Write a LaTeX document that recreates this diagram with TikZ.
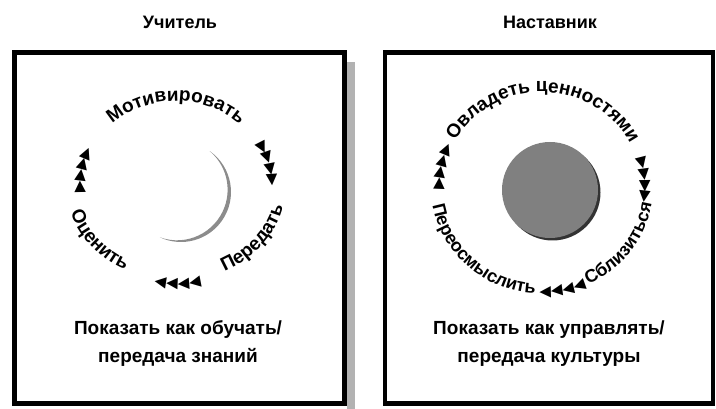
\documentclass[tikz,border=0pt]{standalone}
\usepackage{fontspec}
\setmainfont{Liberation Sans}
\newfontfamily\arrowfont{DejaVu Sans}
\usepackage{tikz}
\usetikzlibrary{decorations.text}

\newcommand\ringfont{\fontsize{19}{19}\selectfont\bfseries}
\newcommand\ringsmallfont{\fontsize{18}{18}\selectfont\bfseries}
\newcommand\pointfont{\arrowfont\fontsize{15}{15}\selectfont}

\begin{document}
\begin{tikzpicture}[
  x = 1pt, y = 1pt,
  title/.style    = {font=\fontsize{18}{22}\selectfont\bfseries},
  frame/.style    = {draw, line width=4.5pt},
  note/.style     = {align=center, font=\fontsize{19}{28}\selectfont\bfseries},
  ring/.style     = {decorate, decoration={text along path, text align=center,
                     text={|\ringfont|#1}}},
  ringsmall/.style = {decorate, decoration={text along path, text align=center,
                     text={|\ringsmallfont|#1}}},
  pointers/.style = {decorate, decoration={text along path, text align=center,
                     raise=-5pt, text={|\pointfont|#1}}},
]
\useasboundingbox (0,0) rectangle (716,409);

% ── Titles ───────────────────────────────────────────────────
\node[title] (tteach) at (180,387) {Учитель};
\node[title] (tment)  at (550,387) {Наставник};

% ── Frames ───────────────────────────────────────────────────
\fill[gray!60] (347,0) rectangle (355,347);
\draw[frame] (14.5,5.5) rectangle (344.5,356.5);
\draw[frame] (385,5.5)  rectangle (713,356.5);

% ── Teacher: crescent and cycle ──────────────────────────────
\coordinate (cT) at (176,224);
\fill[black!45] (181,217) ++(55:50)
  arc[start angle=55, end angle=-115, radius=50]
  arc[start angle=-109.8, end angle=49.8, radius=50.6] -- cycle;
\path[ring=Мотивировать, shift={(cT)}]
  (150:92 and 84) arc[start angle=150, end angle=30, x radius=92, y radius=84];
\path[pointers=▶▶▶▶, shift={(cT)}]
  (34:97 and 89) arc[start angle=34, end angle=-6, x radius=97, y radius=89];
\path[pointers=▶▶▶▶, shift={(cT)}]
  (190:97 and 89) arc[start angle=190, end angle=150, x radius=97, y radius=89];
\path[ring=Передать, shift={(cT)}]
  (-72:110 and 96) arc[start angle=-72, end angle=-4, x radius=110, y radius=96];
\path[pointers=◀◀◀◀, shift={(cT)}]
  (-109:100 and 98) arc[start angle=-109, end angle=-69, x radius=100, y radius=98];
\path[ring=Оценить, shift={(cT)}]
  (186:110 and 96) arc[start angle=186, end angle=252, x radius=110, y radius=96];

\node[note] (nteach) at (178,65) {Показать как обучать/\\передача знаний};

% ── Mentor: disk and cycle ───────────────────────────────────
\coordinate (cM) at (542,222);
\fill[black!80] (552.5,216.5) circle (48);
\fill[black!50] (550,219) circle (48);
\path[ring=Овладеть ценностями, shift={(cM)}]
  (172:99 and 95) arc[start angle=172, end angle=6, x radius=99, y radius=95];
\path[pointers=▶▶▶▶, shift={(cM)}]
  (22:104 and 100) arc[start angle=22, end angle=-14, x radius=104, y radius=100];
\path[pointers=▶▶▶▶, shift={(cM)}]
  (186:104 and 100) arc[start angle=186, end angle=150, x radius=104, y radius=100];
\path[ringsmall=Сблизиться, shift={(cM)}]
  (-75:111 and 107) arc[start angle=-75, end angle=1, x radius=111, y radius=107];
\path[pointers=◀◀◀◀, shift={(cM)}]
  (-97:107 and 104) arc[start angle=-97, end angle=-61, x radius=107, y radius=104];
\path[ringsmall=Переосмыслить, shift={(cM)}]
  (182:111 and 107) arc[start angle=182, end angle=274, x radius=111, y radius=107];

\node[note] (nment) at (549,65) {Показать как управлять/\\передача культуры};

\end{tikzpicture}
\end{document}
